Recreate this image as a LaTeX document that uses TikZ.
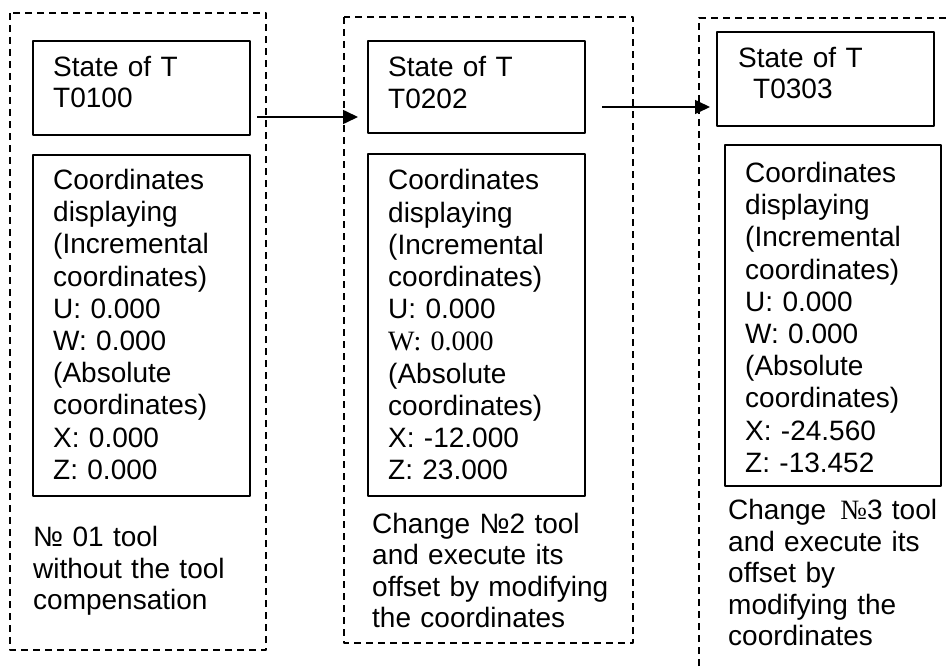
\documentclass[tikz,border=0pt]{standalone}
\usepackage{fontspec}
\setmainfont{Liberation Sans}
\newfontfamily\serifnum{Liberation Serif}
\usetikzlibrary{arrows.meta}

\begin{document}
\begin{tikzpicture}[x=1pt,y=-1pt,>={Triangle[length=15pt,width=14pt]},line join=round]
  \tikzset{
    frame/.style={line width=1.4pt,dash pattern=on 7pt off 5pt},
    box/.style={draw,line width=1.6pt,inner sep=0pt,anchor=north west},
    txt/.style={anchor=north west,inner sep=0pt,text width=240pt,align=left,font=\fontsize{28}{31.5}\selectfont},
    coordtxt/.style={txt,font=\fontsize{28}{32.2}\selectfont}
  }
  \useasboundingbox (0,0) rectangle (949,666);
  % column 1
  \draw[frame] (10,13) rectangle (266,650);
  \node[box,minimum width=217pt,minimum height=94pt] (st1) at (32,40) {};
  \node[txt] (st1t) at (53,56) {State of T\\T0100};
  \node[box,minimum width=217pt,minimum height=341pt] (co1) at (32,154) {};
  \node[coordtxt] (co1t) at (53,169) {Coordinates\\displaying\\(Incremental\\coordinates)\\U: 0.000\\W: 0.000\\(Absolute\\coordinates)\\X: 0.000\\Z: 0.000};
  \node[txt] (cap1) at (33,526.5) {№ 01 tool\\without the tool\\compensation};
  % column 2
  \draw[frame] (344,17) rectangle (633,643);
  \node[box,minimum width=217pt,minimum height=92pt] (st2) at (367,40) {};
  \node[txt] (st2t) at (388,56.5) {State of T\\T0202};
  \node[box,minimum width=217pt,minimum height=342pt] (co2) at (367,153) {};
  \node[coordtxt] (co2t) at (388,169.5) {Coordinates\\displaying\\(Incremental\\coordinates)\\U: 0.000\\{\serifnum W: 0.000}\\(Absolute\\coordinates)\\X: -12.000\\Z: 23.000};
  \node[txt] (cap2) at (372,513) {Change №2 tool\\and execute its\\offset by modifying\\the coordinates};
  % column 3
  \draw[frame] (699,666) -- (699,18) -- (949,18);
  \node[box,minimum width=217pt,minimum height=94pt] (st3) at (716,31) {};
  \node[txt] (st3t) at (738,47) {State of T\\\hspace*{15pt}T0303};
  \node[box,minimum width=216pt,minimum height=341pt] (co3) at (724,144) {};
  \node[coordtxt] (co3t) at (745,162) {Coordinates\\displaying\\(Incremental\\coordinates)\\U: 0.000\\W: 0.000\\(Absolute\\coordinates)\\X: -24.560\\Z: -13.452};
  \node[txt] (cap3) at (728,499.5) {Change\ \,{\serifnum №}3 tool\\and execute its\\offset by\\modifying the\\coordinates};
  % arrows
  \coordinate (a1s) at (257,117);
  \coordinate (a1e) at (358,117);
  \coordinate (a2s) at (602,107);
  \coordinate (a2e) at (710,107);
  \draw[->,line width=1.6pt] (a1s) -- (a1e);
  \draw[->,line width=1.6pt] (a2s) -- (a2e);
\end{tikzpicture}
\end{document}
